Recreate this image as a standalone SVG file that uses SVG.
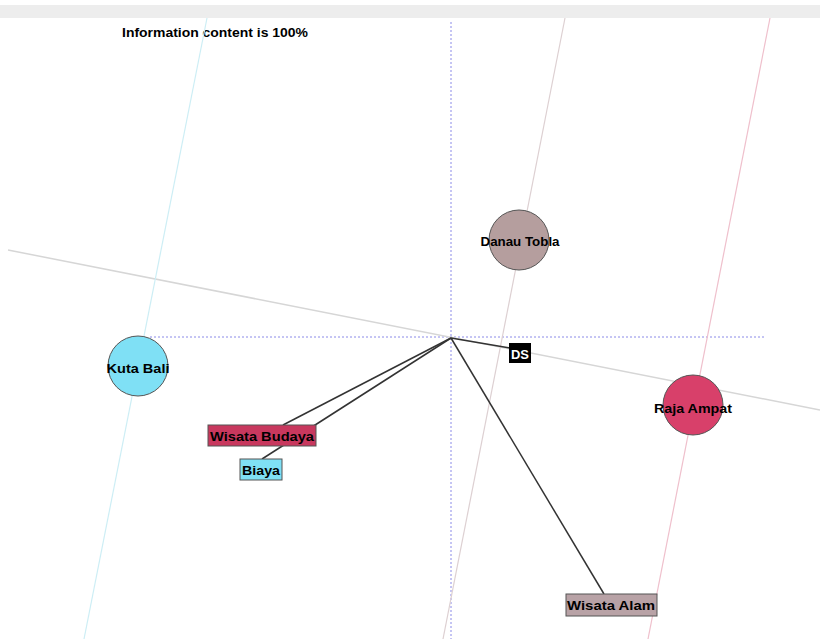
<svg xmlns="http://www.w3.org/2000/svg" width="820" height="639" viewBox="0 0 820 639">
<style>
.lbl{font-family:"Liberation Sans",Arial,sans-serif;font-weight:bold;font-size:13px;fill:#000;text-anchor:middle;dominant-baseline:central}
.axis{stroke:#8a8ae8;stroke-width:1;stroke-dasharray:2 2;fill:none}
.proj{stroke-width:1.2;fill:none}
.vec{stroke:#333;stroke-width:1.5;fill:none}
.node{stroke:#555;stroke-width:1}
</style>
<rect x="0" y="0" width="820" height="639" fill="#fff"/>
<rect x="0" y="5" width="820" height="13" fill="#ededed"/>
<text x="122" y="33" class="lbl" style="text-anchor:start;font-size:12px" textLength="186" lengthAdjust="spacingAndGlyphs">Information content is 100%</text>
<g id="connectors">
<line class="axis" x1="451" y1="22" x2="451" y2="639"/>
<line class="axis" x1="150" y1="337" x2="764" y2="337"/>
<line x1="8" y1="250" x2="820" y2="410" stroke="#d6d6d6" stroke-width="1.5"/>
<line class="proj" x1="207" y1="18" x2="84" y2="639" stroke="#cdeef5"/>
<line class="proj" x1="565" y1="18" x2="443" y2="639" stroke="#ddd0d2"/>
<line class="proj" x1="770" y1="18" x2="648" y2="639" stroke="#efc0cc"/>
<line class="vec" x1="451" y1="338" x2="283" y2="425"/>
<line class="vec" x1="451" y1="338" x2="262" y2="459"/>
<line class="vec" x1="451" y1="338" x2="604" y2="594"/>
<line class="vec" x1="451" y1="338" x2="510" y2="348"/>
</g>
<g id="danau-tobla">
<circle class="node" cx="519" cy="240" r="30" fill="#b59e9e"/>
<text class="lbl" x="520" y="241" textLength="79" lengthAdjust="spacingAndGlyphs">Danau Tobla</text>
</g>
<g id="kuta-bali">
<circle class="node" cx="138" cy="366" r="30" fill="#7fe0f5"/>
<text class="lbl" x="138" y="368" textLength="63" lengthAdjust="spacingAndGlyphs">Kuta Bali</text>
</g>
<g id="raja-ampat">
<circle class="node" cx="693" cy="405" r="30" fill="#d8406a"/>
<text class="lbl" x="693" y="408" textLength="78" lengthAdjust="spacingAndGlyphs">Raja Ampat</text>
</g>
<g id="wisata-budaya">
<rect class="node" x="208" y="425" width="108" height="21" fill="#c8385e"/>
<text class="lbl" x="262" y="436" textLength="104" lengthAdjust="spacingAndGlyphs">Wisata Budaya</text>
</g>
<g id="biaya">
<rect class="node" x="240" y="459" width="42" height="21" fill="#7fe0f5"/>
<text class="lbl" x="261" y="470" textLength="38" lengthAdjust="spacingAndGlyphs">Biaya</text>
</g>
<g id="wisata-alam">
<rect class="node" x="566" y="594" width="91" height="22" fill="#b8a2a6"/>
<text class="lbl" x="611" y="605" textLength="88" lengthAdjust="spacingAndGlyphs">Wisata Alam</text>
</g>
<g id="ds">
<rect x="509" y="343" width="22" height="20" fill="#000"/>
<text class="lbl" x="520" y="354" style="fill:#fff" textLength="18" lengthAdjust="spacingAndGlyphs">DS</text>
</g>
</svg>
